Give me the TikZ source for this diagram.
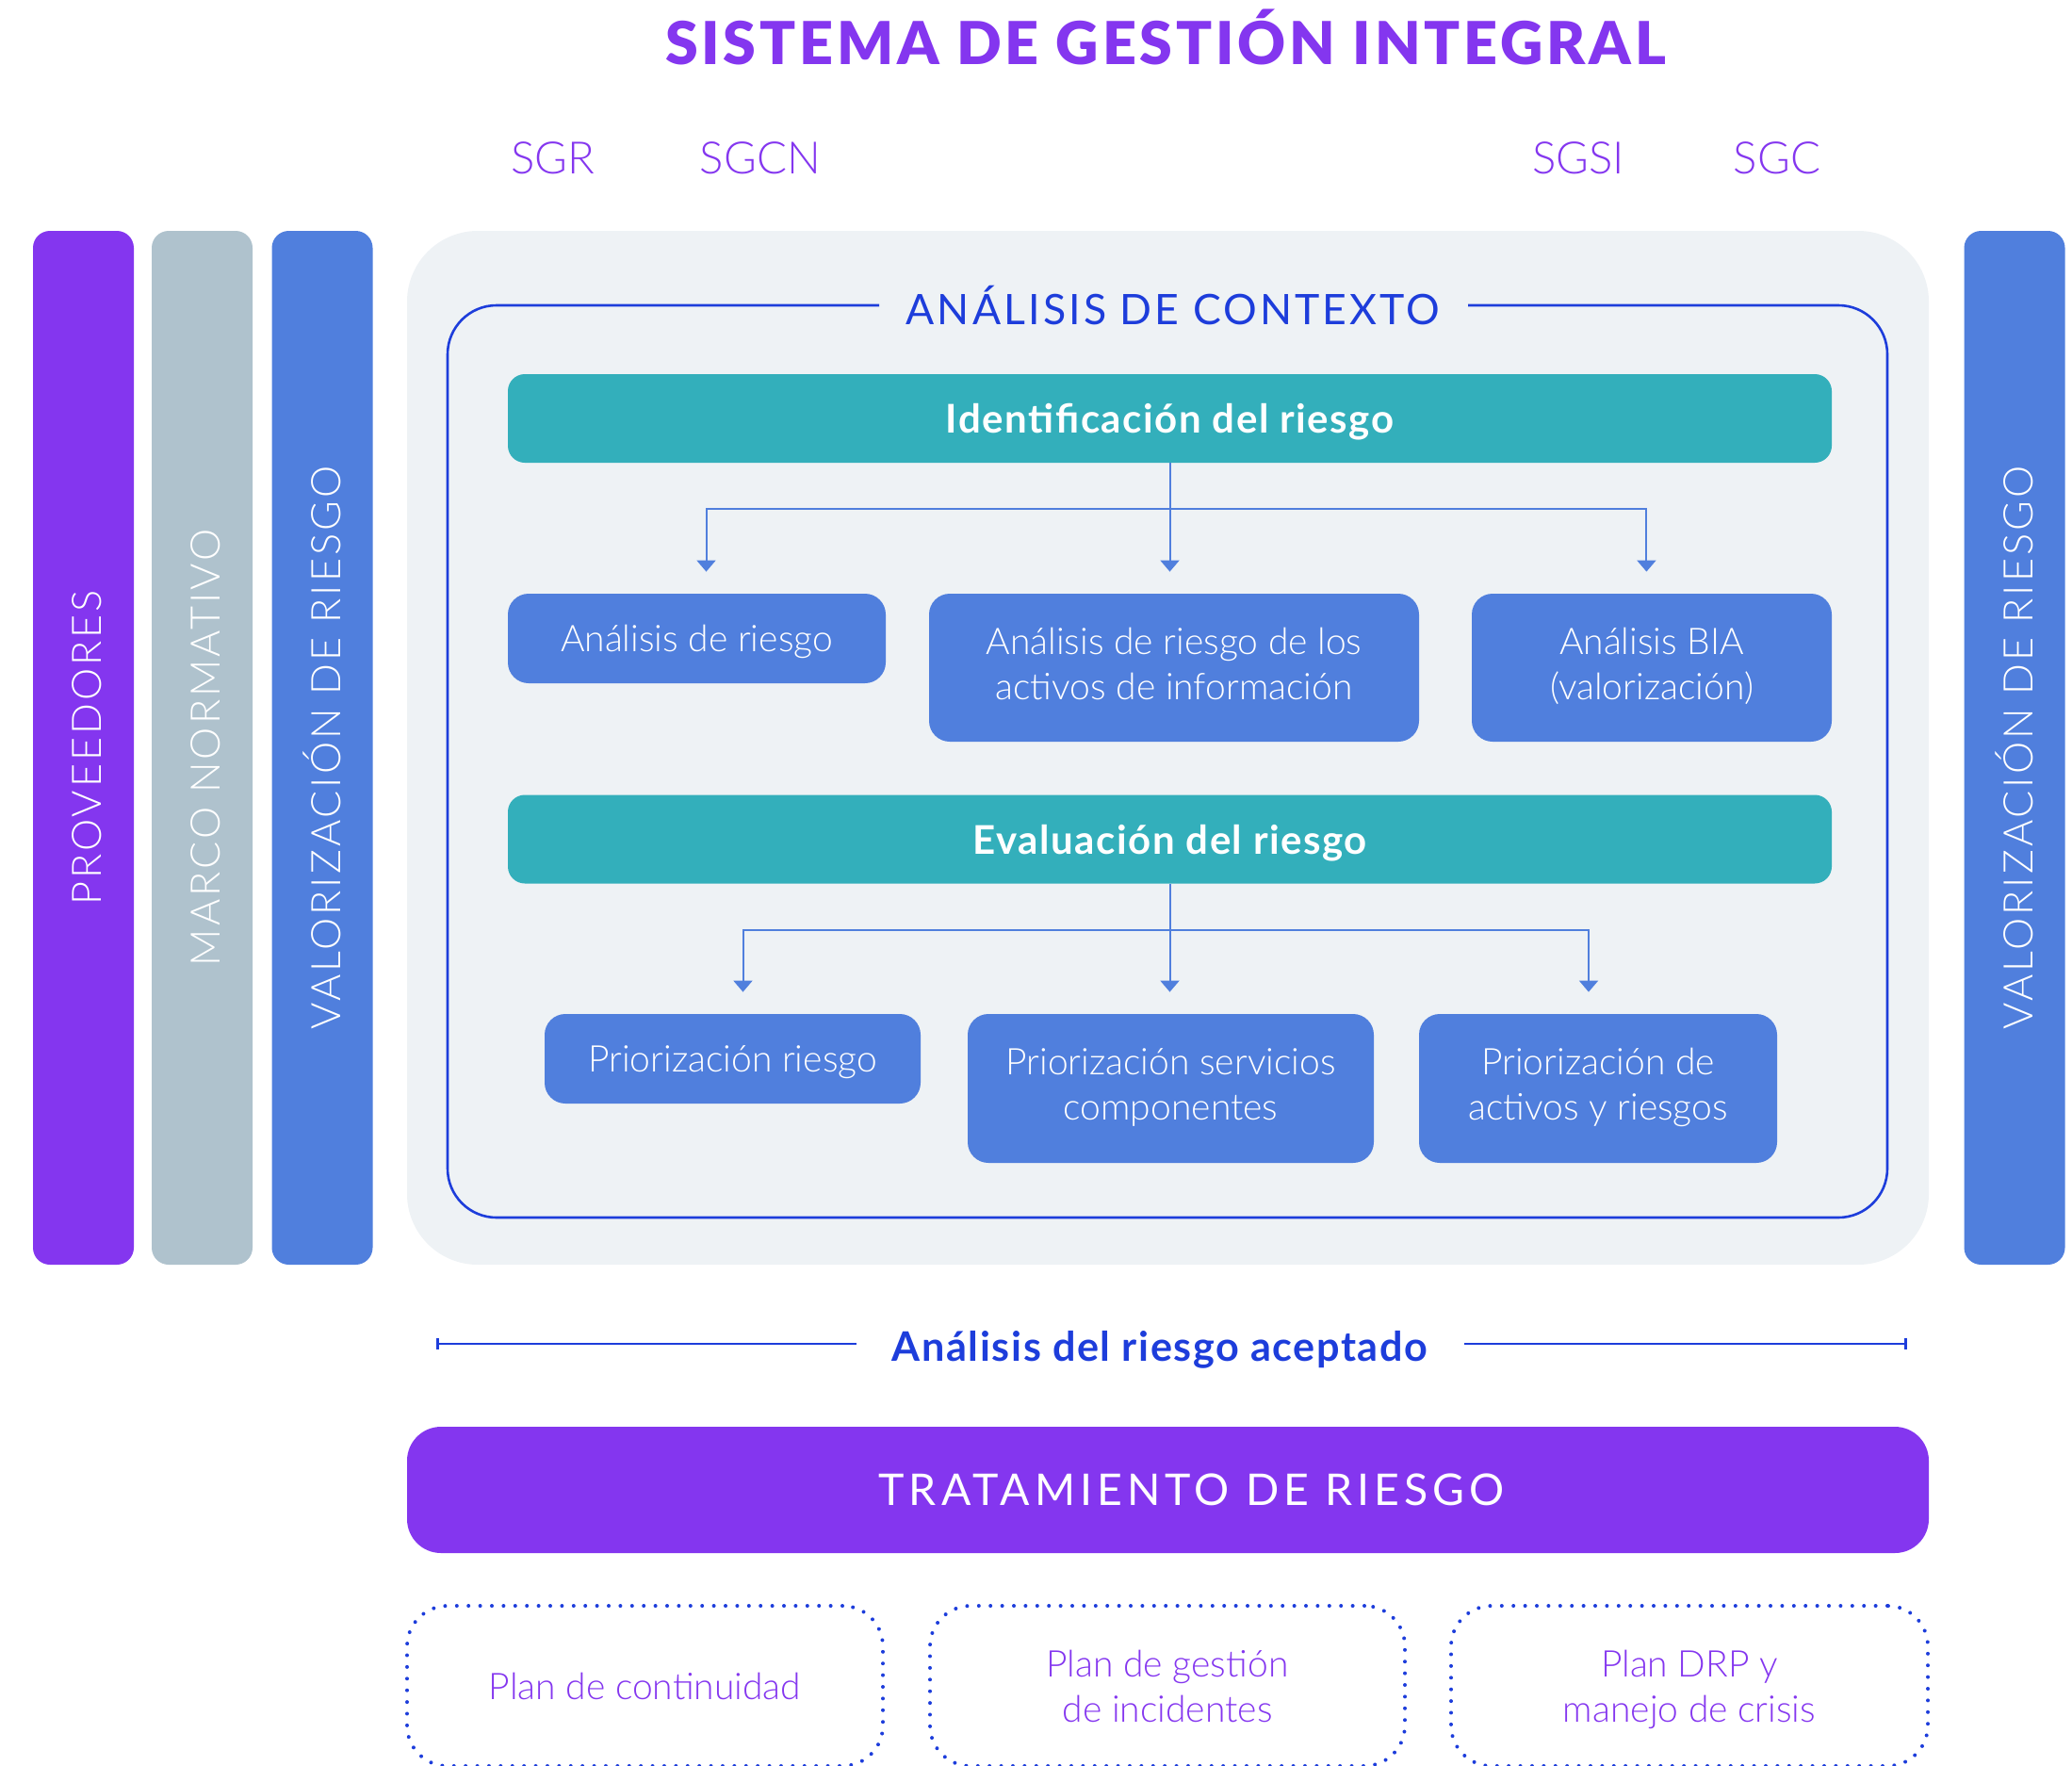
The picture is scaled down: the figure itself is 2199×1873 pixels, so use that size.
\documentclass[tikz,border=0pt]{standalone}
\usepackage{fontspec}
\setmainfont{Lato}
\newfontfamily\lightf{Lato Light}
\newfontfamily\lightsp{Lato Light}[LetterSpace=7]
\newfontfamily\ctxsp{Lato}[LetterSpace=7]
\newfontfamily\tratsp{Lato}[LetterSpace=11]
\newfontfamily\boldsp{Lato Black}[LetterSpace=6]
\newfontfamily\semib{Lato Bold}[LetterSpace=3.7]
\usetikzlibrary{arrows.meta}
\definecolor{cpurple}{HTML}{8436EF}
\definecolor{cgrey}{HTML}{AFC2CD}
\definecolor{cblue}{HTML}{507FDD}
\definecolor{cteal}{HTML}{33AFBB}
\definecolor{cpanel}{HTML}{EEF2F5}
\definecolor{cdark}{HTML}{1D3DDB}
\begin{document}
\begin{tikzpicture}[x=0.5pt,y=-0.5pt,
  vbar/.style={rotate=90, rounded corners=9pt, minimum width=548.5pt, minimum height=53.5pt, inner sep=0pt,
    text height=19.5pt, text=white, font=\lightsp\fontsize{21.6}{26}\selectfont},
  head/.style={fill=cteal, rounded corners=9pt, minimum width=702.5pt, minimum height=47pt, inner sep=0pt,
    text depth=0pt, text=white, font=\semib\fontsize{21}{25}\selectfont},
  bluebox/.style={fill=cblue, rounded corners=11pt, inner sep=0pt, text=white, align=center,
    text depth=4.5pt, font=\lightf\fontsize{19.5}{24}\selectfont},
  onebox/.style={bluebox, text depth=0pt},
  dotbox/.style={draw=cdark, line width=2pt, dash pattern=on 0pt off 6.2pt, line cap=round,
    rounded corners=21.5pt, inner sep=0pt, text=cpurple, align=center, text depth=0pt,
    font=\lightf\fontsize{19.5}{24}\selectfont},
  sglabel/.style={text=cpurple, font=\lightf\fontsize{23.7}{28}\selectfont},
  conn/.style={draw=cblue, line width=1pt},
  arr/.style={conn, -{Triangle[width=10pt,length=6pt]}, shorten >=11.5pt},
  accline/.style={draw=cdark, line width=1.3pt},
]
\useasboundingbox (0,0) rectangle (2199,1873);

% title
\node[text=cpurple, font=\boldsp\fontsize{31.4}{36}\selectfont] (title) at (1237,39) {SISTEMA DE GESTIÓN INTEGRAL};

% system labels
\node[sglabel] (sgr) at (587,168) {SGR};
\node[sglabel] (sgcn) at (807,168) {SGCN};
\node[sglabel] (sgsi) at (1675,168) {SGSI};
\node[sglabel] (sgc) at (1886,168) {SGC};

% side bars
\node[vbar, fill=cpurple] (prov) at (88.5,793.5) {PROVEEDORES};
\node[vbar, fill=cgrey] (marco) at (214.5,793.5) {MARCO NORMATIVO};
\node[vbar, fill=cblue] (valL) at (342,793.5) {VALORIZACIÓN DE RIESGO};
\node[vbar, fill=cblue] (valR) at (2138,793.5) {VALORIZACIÓN DE RIESGO};

% panel
\fill[cpanel, rounded corners=37.5pt] (432,245) rectangle (2047,1342);

% context frame
\draw[cdark, line width=1.3pt, rounded corners=26pt]
  (1558,324) -- (2003,324) -- (2003,1292) -- (475,1292) -- (475,324) -- (933,324);
\node[text=cdark, font=\ctxsp\fontsize{22.3}{26}\selectfont] (ctx) at (1245,324) {ANÁLISIS DE CONTEXTO};

% identification
\node[head] (ident) at (1241.5,444) {Identificación del riesgo};
\node[onebox, minimum width=200.5pt, minimum height=47.5pt] (a1) at (739.5,677.5) {Análisis de riesgo};
\node[bluebox, minimum width=260pt, minimum height=78.5pt] (a2) at (1246,708.5) {Análisis de riesgo de los\\activos de información};
\node[bluebox, minimum width=191pt, minimum height=78.5pt] (a3) at (1753,708.5) {Análisis BIA\\(valorización)};
\coordinate (j1) at (1241.5,540);
\draw[arr] (ident.south) -- (ident.south |- a2.north);
\draw[arr] (j1) -| ([xshift=5pt]a1.north);
\draw[arr] (j1) -| ([xshift=-2.8pt]a3.north);

% evaluation
\node[head] (eval) at (1241.5,890.5) {Evaluación del riesgo};
\node[onebox, minimum width=199.5pt, minimum height=47.5pt] (b1) at (777.5,1123.5) {Priorización riesgo};
\node[bluebox, minimum width=215.5pt, minimum height=79pt] (b2) at (1242.5,1155) {Priorización servicios\\componentes};
\node[bluebox, minimum width=190pt, minimum height=79pt] (b3) at (1696,1155) {Priorización de\\activos y riesgos};
\coordinate (j2) at (1241.5,987);
\draw[arr] (eval.south) -- (eval.south |- b2.north);
\draw[arr] (j2) -| ([xshift=5.5pt]b1.north);
\draw[arr] (j2) -| ([xshift=-5pt]b3.north);

% accepted risk
\node[text=cdark, text depth=0pt, font=\semib\fontsize{21.6}{26}\selectfont] (acc) at (1231,1428) {Análisis del riesgo aceptado};
\coordinate (l1) at (463,1426);
\coordinate (l2) at (909,1426);
\coordinate (r1) at (1554,1426);
\coordinate (r2) at (2024,1426);
\draw[accline, {Bar[width=6pt,line width=1.3pt]}-] (l1) -- (l2);
\draw[accline, -{Bar[width=6pt,line width=1.3pt]}] (r1) -- (r2);

% treatment
\node[fill=cpurple, rounded corners=18pt, minimum width=807.5pt, minimum height=67pt, inner sep=0pt,
  text=white, font=\tratsp\fontsize{23.2}{28}\selectfont] (trat) at (1239.5,1581) {\hspace*{25pt}TRATAMIENTO DE RIESGO};

% plans
\node[dotbox, minimum width=252.5pt, minimum height=85pt] (p1) at (684.5,1789) {Plan de continuidad};
\node[dotbox, minimum width=252pt, minimum height=85pt] (p2) at (1239,1789) {Plan de gestión\\de incidentes};
\node[dotbox, minimum width=253pt, minimum height=85pt] (p3) at (1793,1789) {Plan DRP y\\manejo de crisis};
\end{tikzpicture}
\end{document}
